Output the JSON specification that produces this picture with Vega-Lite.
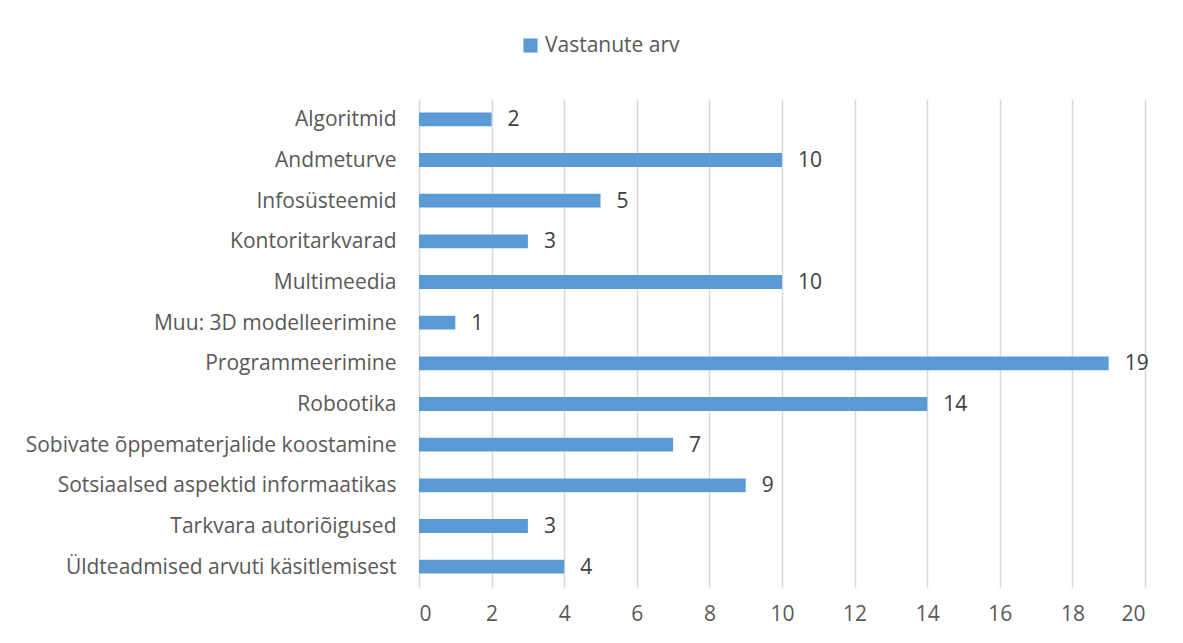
{
  "$schema": "https://vega.github.io/schema/vega-lite/v6.json",
  "width": 726,
  "height": 488,
  "autosize": {"type": "none"},
  "padding": {"left": 419, "top": 99, "right": 38, "bottom": 56},
  "background": "white",
  "data": {"values": [
    {"teema": "Algoritmid", "arv": 2, "seeria": "Vastanute arv"},
    {"teema": "Andmeturve", "arv": 10, "seeria": "Vastanute arv"},
    {"teema": "Infosüsteemid", "arv": 5, "seeria": "Vastanute arv"},
    {"teema": "Kontoritarkvarad", "arv": 3, "seeria": "Vastanute arv"},
    {"teema": "Multimeedia", "arv": 10, "seeria": "Vastanute arv"},
    {"teema": "Muu: 3D modelleerimine", "arv": 1, "seeria": "Vastanute arv"},
    {"teema": "Programmeerimine", "arv": 19, "seeria": "Vastanute arv"},
    {"teema": "Robootika", "arv": 14, "seeria": "Vastanute arv"},
    {"teema": "Sobivate õppematerjalide koostamine", "arv": 7, "seeria": "Vastanute arv"},
    {"teema": "Sotsiaalsed aspektid informaatikas", "arv": 9, "seeria": "Vastanute arv"},
    {"teema": "Tarkvara autoriõigused", "arv": 3, "seeria": "Vastanute arv"},
    {"teema": "Üldteadmised arvuti käsitlemisest", "arv": 4, "seeria": "Vastanute arv"}
  ]},
  "config": {
    "view": {"stroke": null},
    "font": "Open Sans",
    "axis": {"labelFont": "Open Sans", "labelColor": "#595959", "labelFontSize": 21, "labelLimit": 0}
  },
  "encoding": {
    "y": {"field": "teema", "type": "nominal", "sort": null,
      "scale": {"paddingInner": 0.66, "paddingOuter": 0.33},
      "axis": {"title": null, "domain": false, "ticks": false, "labelPadding": 23, "grid": false, "labelBaseline": "middle", "labelOffset": 1}},
    "x": {"field": "arv", "type": "quantitative",
      "scale": {"domain": [0, 20], "nice": false},
      "axis": {"title": null, "domain": false, "ticks": false, "values": [0,2,4,6,8,10,12,14,16,18,20],
        "labelPadding": 16, "grid": true, "gridColor": "#d9d9d9", "gridWidth": 1.5}}
  },
  "layer": [
    {"mark": {"type": "bar"},
     "encoding": {"color": {"field": "seeria", "type": "nominal",
        "scale": {"range": ["#5B9BD5"]},
        "legend": {"title": null, "orient": "none", "legendX": 101, "legendY": -64,
          "symbolType": "square", "symbolSize": 200, "labelFontSize": 21, "labelColor": "#595959",
          "labelFont": "Open Sans", "symbolStrokeWidth": 0, "labelOffset": 4}}}},
    {"mark": {"type": "text", "align": "left", "dx": 16, "dy": 1, "fontSize": 21, "color": "#404040", "font": "Open Sans"},
     "encoding": {"text": {"field": "arv", "type": "quantitative"}}}
  ]
}
